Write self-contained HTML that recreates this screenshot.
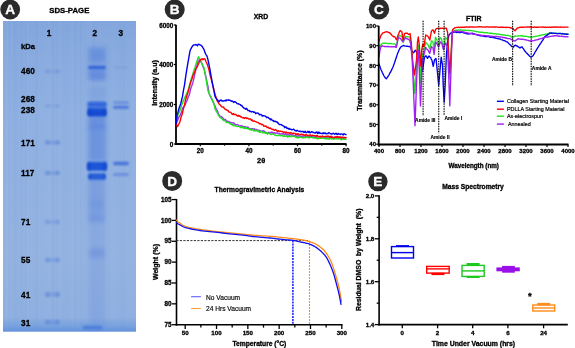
<!DOCTYPE html>
<html><head><meta charset="utf-8"><style>
html,body{margin:0;padding:0;background:#fff;width:575px;height:348px;overflow:hidden}
svg{display:block;will-change:transform}
text{font-family:"Liberation Sans",sans-serif}
</style></head><body>
<svg width="575" height="348" viewBox="0 0 575 348" font-family="Liberation Sans, sans-serif">
<defs><filter id="b1" x="-50%" y="-50%" width="200%" height="200%"><feGaussianBlur stdDeviation="1.2"/></filter><filter id="b2" x="-50%" y="-50%" width="200%" height="200%"><feGaussianBlur stdDeviation="2.2"/></filter><filter id="b05" x="-50%" y="-50%" width="200%" height="200%"><feGaussianBlur stdDeviation="0.6"/></filter><linearGradient id="gbot" x1="0" y1="0" x2="0" y2="1"><stop offset="0" stop-color="rgb(110,155,222)" stop-opacity="0"/><stop offset="0.5" stop-color="rgb(112,157,222)" stop-opacity="0.6"/><stop offset="1" stop-color="rgb(100,146,220)" stop-opacity="1"/></linearGradient><linearGradient id="ggel" x1="0" y1="0" x2="0" y2="1"><stop offset="0" stop-color="rgb(131,166,221)"/><stop offset="0.12" stop-color="rgb(137,171,223)"/><stop offset="0.3" stop-color="rgb(143,176,225)"/><stop offset="0.75" stop-color="rgb(148,179,225)"/><stop offset="0.95" stop-color="rgb(143,176,224)"/><stop offset="1" stop-color="rgb(138,172,223)"/></linearGradient></defs>
<rect width="575" height="348" fill="#fff"/>
<rect x="3" y="21" width="133" height="310.5" fill="url(#ggel)"/>
<rect x="46.1" y="21" width="1.1" height="310.5" fill="#ffffff" opacity="0.03"/>
<rect x="74.3" y="21" width="1.4" height="310.5" fill="#3a64c0" opacity="0.02"/>
<rect x="8.0" y="21" width="1.5" height="310.5" fill="#ffffff" opacity="0.02"/>
<rect x="59.5" y="21" width="2.2" height="310.5" fill="#ffffff" opacity="0.02"/>
<rect x="86.4" y="21" width="2.4" height="310.5" fill="#ffffff" opacity="0.03"/>
<rect x="132.8" y="21" width="0.9" height="310.5" fill="#ffffff" opacity="0.03"/>
<rect x="22.2" y="21" width="1.0" height="310.5" fill="#3a64c0" opacity="0.02"/>
<rect x="27.0" y="21" width="1.8" height="310.5" fill="#ffffff" opacity="0.03"/>
<rect x="75.9" y="21" width="0.9" height="310.5" fill="#ffffff" opacity="0.02"/>
<rect x="93.5" y="21" width="1.5" height="310.5" fill="#3a64c0" opacity="0.02"/>
<rect x="63.3" y="21" width="1.3" height="310.5" fill="#3a64c0" opacity="0.03"/>
<rect x="35.5" y="21" width="1.8" height="310.5" fill="#3a64c0" opacity="0.03"/>
<rect x="100.0" y="21" width="1.3" height="310.5" fill="#ffffff" opacity="0.03"/>
<rect x="58.6" y="21" width="2.1" height="310.5" fill="#ffffff" opacity="0.02"/>
<rect x="8.2" y="21" width="1.9" height="310.5" fill="#3a64c0" opacity="0.03"/>
<rect x="119.4" y="21" width="1.3" height="310.5" fill="#3a64c0" opacity="0.03"/>
<rect x="80.1" y="21" width="1.6" height="310.5" fill="#3a64c0" opacity="0.03"/>
<rect x="66.1" y="21" width="1.9" height="310.5" fill="#3a64c0" opacity="0.02"/>
<rect x="89.1" y="21" width="2.5" height="310.5" fill="#ffffff" opacity="0.03"/>
<rect x="54.3" y="21" width="1.9" height="310.5" fill="#ffffff" opacity="0.02"/>
<rect x="25.4" y="21" width="1.0" height="310.5" fill="#3a64c0" opacity="0.02"/>
<rect x="20.2" y="21" width="1.2" height="310.5" fill="#3a64c0" opacity="0.02"/>
<rect x="13.7" y="21" width="1.6" height="310.5" fill="#3a64c0" opacity="0.03"/>
<rect x="112.0" y="21" width="2.3" height="310.5" fill="#ffffff" opacity="0.02"/>
<rect x="50.7" y="21" width="2.3" height="310.5" fill="#ffffff" opacity="0.03"/>
<rect x="26.4" y="21" width="1.2" height="310.5" fill="#ffffff" opacity="0.02"/>
<rect x="81.4" y="21" width="1.2" height="310.5" fill="#ffffff" opacity="0.02"/>
<rect x="52.1" y="21" width="1.8" height="310.5" fill="#3a64c0" opacity="0.03"/>
<rect x="71.6" y="21" width="1.8" height="310.5" fill="#ffffff" opacity="0.03"/>
<rect x="122.6" y="21" width="2.1" height="310.5" fill="#3a64c0" opacity="0.03"/>
<rect x="55.2" y="21" width="1.5" height="310.5" fill="#3a64c0" opacity="0.02"/>
<rect x="11.3" y="21" width="0.9" height="310.5" fill="#ffffff" opacity="0.02"/>
<rect x="48.2" y="21" width="0.9" height="310.5" fill="#ffffff" opacity="0.02"/>
<rect x="16.5" y="21" width="1.4" height="310.5" fill="#3a64c0" opacity="0.02"/>
<rect x="84.7" y="21" width="1.1" height="310.5" fill="#ffffff" opacity="0.02"/>
<rect x="51.4" y="21" width="1.0" height="310.5" fill="#3a64c0" opacity="0.03"/>
<rect x="65.0" y="21" width="1.6" height="310.5" fill="#ffffff" opacity="0.02"/>
<rect x="48.6" y="21" width="1.3" height="310.5" fill="#ffffff" opacity="0.03"/>
<rect x="6.1" y="21" width="2.4" height="310.5" fill="#ffffff" opacity="0.03"/>
<rect x="75.2" y="21" width="0.8" height="310.5" fill="#3a64c0" opacity="0.03"/>
<rect x="3" y="318" width="133" height="13.5" fill="url(#gbot)"/>
<g filter="url(#b2)">
<rect x="88" y="46" width="18" height="34" fill="#3a6ad8" opacity="0.2"/>
<rect x="88.5" y="49" width="17" height="12" fill="#2f62d8" opacity="0.22"/>
<rect x="88.5" y="70" width="17" height="11" fill="#2f62d8" opacity="0.3"/>
<rect x="88" y="86" width="18" height="14" fill="#3a6ad8" opacity="0.15"/>
<rect x="88" y="114" width="18" height="14" fill="#2f62d8" opacity="0.4"/>
<rect x="88" y="126" width="18" height="36" fill="#2f62d8" opacity="0.34"/>
<rect x="88" y="178" width="17" height="44" fill="#3a6ad8" opacity="0.26"/>
<rect x="89" y="200" width="15" height="9" fill="#3a6ad8" opacity="0.1"/>
<rect x="88" y="215" width="17" height="110" fill="#4a78d8" opacity="0.16"/>
</g>
<rect x="45.00" y="70.00" width="15" height="3" rx="1.50" fill="#3d6ad0" opacity="0.13999999999999999" filter="url(#b1)"/>
<rect x="45.25" y="69.75" width="4.5" height="3.5" rx="1.75" fill="#3d6ad0" opacity="0.16000000000000003" filter="url(#b1)"/>
<rect x="55.25" y="69.75" width="4.5" height="3.5" rx="1.75" fill="#3d6ad0" opacity="0.16000000000000003" filter="url(#b1)"/>
<rect x="45.00" y="104.50" width="15" height="3" rx="1.50" fill="#3d6ad0" opacity="0.105" filter="url(#b1)"/>
<rect x="45.25" y="104.25" width="4.5" height="3.5" rx="1.75" fill="#3d6ad0" opacity="0.12" filter="url(#b1)"/>
<rect x="55.25" y="104.25" width="4.5" height="3.5" rx="1.75" fill="#3d6ad0" opacity="0.12" filter="url(#b1)"/>
<rect x="45.00" y="140.75" width="15" height="3.5" rx="1.75" fill="#3d6ad0" opacity="0.24499999999999997" filter="url(#b1)"/>
<rect x="45.25" y="140.50" width="4.5" height="4.0" rx="2.00" fill="#3d6ad0" opacity="0.27999999999999997" filter="url(#b1)"/>
<rect x="55.25" y="140.50" width="4.5" height="4.0" rx="2.00" fill="#3d6ad0" opacity="0.27999999999999997" filter="url(#b1)"/>
<rect x="45.00" y="171.25" width="15" height="3.5" rx="1.75" fill="#3d6ad0" opacity="0.24499999999999997" filter="url(#b1)"/>
<rect x="45.25" y="171.00" width="4.5" height="4.0" rx="2.00" fill="#3d6ad0" opacity="0.27999999999999997" filter="url(#b1)"/>
<rect x="55.25" y="171.00" width="4.5" height="4.0" rx="2.00" fill="#3d6ad0" opacity="0.27999999999999997" filter="url(#b1)"/>
<rect x="45.00" y="220.25" width="15" height="3.5" rx="1.75" fill="#3d6ad0" opacity="0.175" filter="url(#b1)"/>
<rect x="45.25" y="220.00" width="4.5" height="4.0" rx="2.00" fill="#3d6ad0" opacity="0.2" filter="url(#b1)"/>
<rect x="55.25" y="220.00" width="4.5" height="4.0" rx="2.00" fill="#3d6ad0" opacity="0.2" filter="url(#b1)"/>
<rect x="45.00" y="258.00" width="15" height="4" rx="2.00" fill="#3d6ad0" opacity="0.21" filter="url(#b1)"/>
<rect x="45.25" y="257.75" width="4.5" height="4.5" rx="2.25" fill="#3d6ad0" opacity="0.24" filter="url(#b1)"/>
<rect x="55.25" y="257.75" width="4.5" height="4.5" rx="2.25" fill="#3d6ad0" opacity="0.24" filter="url(#b1)"/>
<rect x="45.00" y="292.00" width="15" height="5" rx="2.50" fill="#3d6ad0" opacity="0.21" filter="url(#b1)"/>
<rect x="45.25" y="291.75" width="4.5" height="5.5" rx="2.75" fill="#3d6ad0" opacity="0.24" filter="url(#b1)"/>
<rect x="55.25" y="291.75" width="4.5" height="5.5" rx="2.75" fill="#3d6ad0" opacity="0.24" filter="url(#b1)"/>
<rect x="45.00" y="320.00" width="15" height="4" rx="2.00" fill="#3d6ad0" opacity="0.21" filter="url(#b1)"/>
<rect x="45.25" y="319.75" width="4.5" height="4.5" rx="2.25" fill="#3d6ad0" opacity="0.24" filter="url(#b1)"/>
<rect x="55.25" y="319.75" width="4.5" height="4.5" rx="2.25" fill="#3d6ad0" opacity="0.24" filter="url(#b1)"/>
<rect x="88.00" y="66.10" width="18" height="3" rx="1.50" fill="#2456d8" opacity="0.85" filter="url(#b1)"/>
<rect x="87.25" y="101.40" width="19.5" height="5.6" rx="2.80" fill="#2a60dc" opacity="0.92" filter="url(#b1)"/>
<rect x="87.50" y="105.95" width="19" height="2.5" rx="1.25" fill="#3a6ad8" opacity="0.6" filter="url(#b1)"/>
<rect x="87.25" y="107.80" width="19.5" height="8.4" rx="3.00" fill="#1a52d8" opacity="1.0" filter="url(#b1)"/>
<rect x="87.75" y="111.60" width="18.5" height="4" rx="2.00" fill="#0a40c8" opacity="0.55" filter="url(#b1)"/>
<rect x="88.00" y="108.00" width="3" height="8" rx="3.00" fill="#0a40c8" opacity="0.5" filter="url(#b1)"/>
<rect x="103.00" y="108.00" width="3" height="8" rx="3.00" fill="#0a40c8" opacity="0.5" filter="url(#b1)"/>
<rect x="87.00" y="162.10" width="20" height="8.6" rx="3.00" fill="#1c54d8" opacity="1.0" filter="url(#b1)"/>
<rect x="87.25" y="161.65" width="3.5" height="9.5" rx="3.00" fill="#0a40c8" opacity="0.55" filter="url(#b1)"/>
<rect x="103.25" y="161.65" width="3.5" height="9.5" rx="3.00" fill="#0a40c8" opacity="0.55" filter="url(#b1)"/>
<rect x="88.00" y="173.35" width="18" height="6.3" rx="3.00" fill="#2258d8" opacity="0.92" filter="url(#b1)"/>
<rect x="88.50" y="173.25" width="3" height="6.5" rx="3.00" fill="#1048c8" opacity="0.4" filter="url(#b1)"/>
<rect x="102.50" y="173.25" width="3" height="6.5" rx="3.00" fill="#1048c8" opacity="0.4" filter="url(#b1)"/>
<rect x="89.00" y="248.00" width="16" height="10" rx="3.00" fill="#3a68d8" opacity="0.22" filter="url(#b2)"/>
<rect x="82.60" y="325.40" width="20" height="4" rx="2.00" fill="#3068d8" opacity="0.55" filter="url(#b1)"/>
<rect x="113.00" y="101.40" width="16" height="2.4" rx="1.20" fill="#3a66d8" opacity="0.5" filter="url(#b1)"/>
<rect x="113.00" y="105.70" width="16" height="3" rx="1.50" fill="#2a5ad8" opacity="0.65" filter="url(#b1)"/>
<rect x="113.00" y="161.65" width="16" height="3.5" rx="1.75" fill="#2a5ad8" opacity="0.7" filter="url(#b1)"/>
<rect x="113.00" y="173.00" width="16" height="3" rx="1.50" fill="#3a66d8" opacity="0.45" filter="url(#b1)"/>
<rect x="114.00" y="66.25" width="14" height="2.5" rx="1.25" fill="#3a68d8" opacity="0.12" filter="url(#b1)"/>
<text x="69.30" y="12.80" font-size="7.8" font-weight="bold" text-anchor="middle" fill="#000"  stroke="#000" stroke-width="0.3">SDS-PAGE</text>
<text x="49.00" y="36.30" font-size="8.2" font-weight="bold" text-anchor="middle" fill="#000"  stroke="#000" stroke-width="0.3">1</text>
<text x="94.70" y="36.30" font-size="8.2" font-weight="bold" text-anchor="middle" fill="#000"  stroke="#000" stroke-width="0.3">2</text>
<text x="120.70" y="36.30" font-size="8.2" font-weight="bold" text-anchor="middle" fill="#000"  stroke="#000" stroke-width="0.3">3</text>
<text x="21.10" y="48.70" font-size="7.6" font-weight="bold" text-anchor="start" fill="#000"  stroke="#000" stroke-width="0.3">kDa</text>
<text x="21.10" y="73.90" font-size="8.2" font-weight="bold" text-anchor="start" fill="#000"  stroke="#000" stroke-width="0.3">460</text>
<text x="21.10" y="101.90" font-size="8.2" font-weight="bold" text-anchor="start" fill="#000"  stroke="#000" stroke-width="0.3">268</text>
<text x="21.10" y="112.90" font-size="8.2" font-weight="bold" text-anchor="start" fill="#000"  stroke="#000" stroke-width="0.3">238</text>
<text x="21.10" y="145.60" font-size="8.2" font-weight="bold" text-anchor="start" fill="#000"  stroke="#000" stroke-width="0.3">171</text>
<text x="21.10" y="176.30" font-size="8.2" font-weight="bold" text-anchor="start" fill="#000"  stroke="#000" stroke-width="0.3">117</text>
<text x="21.10" y="225.20" font-size="8.2" font-weight="bold" text-anchor="start" fill="#000"  stroke="#000" stroke-width="0.3">71</text>
<text x="21.10" y="262.90" font-size="8.2" font-weight="bold" text-anchor="start" fill="#000"  stroke="#000" stroke-width="0.3">55</text>
<text x="21.10" y="297.80" font-size="8.2" font-weight="bold" text-anchor="start" fill="#000"  stroke="#000" stroke-width="0.3">41</text>
<text x="21.10" y="325.60" font-size="8.2" font-weight="bold" text-anchor="start" fill="#000"  stroke="#000" stroke-width="0.3">31</text>
<line x1="176.00" y1="24.80" x2="176.00" y2="145.00" stroke="#000" stroke-width="1.8" />
<line x1="175.20" y1="144.00" x2="346.50" y2="144.00" stroke="#000" stroke-width="1.8" />
<line x1="173.80" y1="25.00" x2="176.00" y2="25.00" stroke="#000" stroke-width="1.2" />
<text x="173.20" y="27.80" font-size="6.3" font-weight="bold" text-anchor="end" fill="#000"  stroke="#000" stroke-width="0.3">6000</text>
<line x1="173.80" y1="64.50" x2="176.00" y2="64.50" stroke="#000" stroke-width="1.2" />
<text x="173.20" y="67.30" font-size="6.3" font-weight="bold" text-anchor="end" fill="#000"  stroke="#000" stroke-width="0.3">4000</text>
<line x1="173.80" y1="104.50" x2="176.00" y2="104.50" stroke="#000" stroke-width="1.2" />
<text x="173.20" y="107.30" font-size="6.3" font-weight="bold" text-anchor="end" fill="#000"  stroke="#000" stroke-width="0.3">2000</text>
<line x1="173.80" y1="144.00" x2="176.00" y2="144.00" stroke="#000" stroke-width="1.2" />
<text x="173.20" y="146.80" font-size="6.3" font-weight="bold" text-anchor="end" fill="#000"  stroke="#000" stroke-width="0.3">0</text>
<line x1="200.30" y1="144.00" x2="200.30" y2="146.30" stroke="#000" stroke-width="1.2" />
<text x="200.30" y="152.80" font-size="6.3" font-weight="bold" text-anchor="middle" fill="#000"  stroke="#000" stroke-width="0.3">20</text>
<line x1="248.90" y1="144.00" x2="248.90" y2="146.30" stroke="#000" stroke-width="1.2" />
<text x="248.90" y="152.80" font-size="6.3" font-weight="bold" text-anchor="middle" fill="#000"  stroke="#000" stroke-width="0.3">40</text>
<line x1="297.50" y1="144.00" x2="297.50" y2="146.30" stroke="#000" stroke-width="1.2" />
<text x="297.50" y="152.80" font-size="6.3" font-weight="bold" text-anchor="middle" fill="#000"  stroke="#000" stroke-width="0.3">60</text>
<line x1="346.10" y1="144.00" x2="346.10" y2="146.30" stroke="#000" stroke-width="1.2" />
<text x="346.10" y="152.80" font-size="6.3" font-weight="bold" text-anchor="middle" fill="#000"  stroke="#000" stroke-width="0.3">80</text>
<line x1="224.60" y1="144.00" x2="224.60" y2="145.80" stroke="#000" stroke-width="1.0" />
<line x1="273.20" y1="144.00" x2="273.20" y2="145.80" stroke="#000" stroke-width="1.0" />
<line x1="321.80" y1="144.00" x2="321.80" y2="145.80" stroke="#000" stroke-width="1.0" />
<text x="261.00" y="19.30" font-size="6.9" font-weight="bold" text-anchor="middle" fill="#000"  stroke="#000" stroke-width="0.3">XRD</text>
<text x="261.10" y="163.00" font-size="7.5" font-weight="bold" text-anchor="middle" fill="#000"  stroke="#000" stroke-width="0.3">2θ</text>
<text x="0.00" y="0.00" font-size="7" font-weight="bold" text-anchor="middle" fill="#000" transform="translate(157.3,83) rotate(-90)" stroke="#000" stroke-width="0.3">Intensity (a.u)</text>
<polyline points="176.50,121.49 177.20,121.17 177.90,119.73 178.60,117.70 179.30,116.71 180.00,115.33 180.75,113.76 181.50,112.10 182.25,109.28 183.00,107.34 183.75,107.30 184.50,105.56 185.25,104.84 186.00,102.60 186.75,101.15 187.50,99.46 188.25,96.70 189.00,95.62 189.75,93.11 190.50,89.44 191.25,86.99 192.00,85.26 193.00,82.21 194.00,77.83 195.00,73.15 196.00,68.99 197.00,64.89 198.00,61.61 198.75,60.66 199.50,59.49 200.33,60.66 201.17,62.19 202.00,63.71 202.75,66.07 203.50,67.86 204.25,69.51 205.00,72.67 206.00,77.18 207.00,82.20 208.00,86.56 209.00,92.69 209.75,95.05 210.50,96.57 211.33,98.17 212.17,100.01 213.00,101.30 214.00,104.11 215.00,105.89 215.80,108.16 216.60,109.64 217.40,110.82 218.20,112.92 219.00,115.04 219.80,115.78 220.60,116.11 221.40,117.02 222.20,117.05 223.00,118.14 223.80,119.42 224.60,119.38 225.40,119.54 226.20,120.57 227.00,121.28 227.71,121.52 228.43,121.37 229.14,121.73 229.86,122.10 230.57,122.75 231.29,122.66 232.00,122.75 232.71,123.16 233.43,122.78 234.14,123.08 234.86,124.27 235.57,124.93 236.29,124.66 237.00,124.65 237.72,124.53 238.44,125.18 239.17,126.04 239.89,125.93 240.61,125.80 241.33,126.44 242.06,125.75 242.78,126.33 243.50,127.13 244.22,126.80 244.94,126.82 245.67,126.74 246.39,127.32 247.11,128.08 247.83,126.94 248.56,128.22 249.28,128.46 250.00,128.74 250.72,128.71 251.45,128.98 252.18,128.75 252.90,128.99 253.62,128.97 254.35,128.63 255.07,129.94 255.80,129.70 256.52,129.35 257.25,129.96 257.97,130.10 258.70,130.10 259.43,130.26 260.15,130.70 260.88,131.00 261.60,131.16 262.32,131.12 263.05,130.69 263.77,131.15 264.50,131.25 265.22,131.99 265.95,132.56 266.67,132.64 267.40,132.82 268.11,132.92 268.82,132.22 269.53,133.12 270.24,132.97 270.95,132.22 271.66,132.21 272.37,132.29 273.08,133.41 273.79,132.78 274.50,132.67 275.21,133.47 275.92,133.16 276.63,132.86 277.34,133.07 278.05,133.66 278.76,133.24 279.47,133.47 280.18,134.17 280.89,133.89 281.60,133.78 282.31,134.08 283.02,133.53 283.73,134.12 284.44,134.25 285.16,134.00 285.87,133.97 286.58,135.16 287.29,134.70 288.00,134.36 288.71,135.00 289.42,135.37 290.13,134.34 290.84,134.42 291.55,134.68 292.26,135.56 292.97,134.86 293.68,135.71 294.39,135.75 295.10,135.65 295.81,135.27 296.52,136.41 297.23,136.25 297.94,135.93 298.65,135.60 299.36,136.28 300.07,136.01 300.78,136.34 301.49,136.07 302.20,136.58 302.91,135.80 303.61,136.16 304.32,137.11 305.03,137.00 305.73,136.23 306.44,137.02 307.15,136.27 307.85,137.17 308.56,136.92 309.26,136.48 309.97,136.27 310.68,135.94 311.38,137.18 312.09,136.02 312.80,137.14 313.50,137.36 314.21,136.83 314.92,136.29 315.62,137.28 316.33,137.45 317.04,137.09 317.74,136.84 318.45,136.67 319.15,136.65 319.86,136.47 320.57,137.15 321.27,136.83 321.98,136.51 322.69,136.41 323.39,137.21 324.10,136.71 324.81,137.02 325.51,136.79 326.22,137.58 326.93,137.64 327.63,136.42 328.34,136.70 329.05,136.89 329.75,137.84 330.46,137.57 331.16,136.97 331.87,136.81 332.58,137.48 333.28,137.72 333.99,137.88 334.70,137.07 335.40,137.85 336.11,137.59 336.82,137.33 337.52,138.05 338.23,137.02 338.94,137.72 339.64,136.84 340.35,136.98 341.05,138.04 341.76,137.08 342.47,137.87 343.17,137.66 343.88,138.02 344.59,137.38 345.29,137.36 346.00,137.60" fill="none" stroke="#a033f0" stroke-width="1.4" stroke-linejoin="round" stroke-linecap="round" />
<polyline points="176.50,120.14 177.20,118.23 177.90,115.08 178.60,113.22 179.30,112.37 180.00,110.33 180.75,108.11 181.50,105.48 182.25,103.77 183.00,101.65 183.75,100.04 184.50,97.87 185.25,96.68 186.00,95.05 186.75,93.46 187.50,91.79 188.25,89.68 189.00,87.06 189.75,84.45 190.50,81.73 191.25,78.93 192.00,76.44 192.75,74.53 193.50,71.80 194.25,69.36 195.00,67.55 196.00,64.04 197.00,61.08 197.80,58.78 198.60,56.63 199.30,58.46 200.00,59.59 201.00,61.61 202.00,63.80 203.00,65.89 204.00,67.75 205.00,73.75 206.00,78.62 207.00,84.58 208.00,90.87 209.00,93.17 210.00,95.71 211.00,96.65 212.00,99.07 213.00,102.05 214.00,103.93 215.00,108.56 216.00,110.65 217.00,112.45 218.05,114.39 219.10,116.19 219.88,117.45 220.66,117.52 221.44,118.64 222.22,118.64 223.00,120.04 223.82,120.60 224.64,120.53 225.46,121.21 226.28,122.25 227.10,122.51 227.80,122.51 228.50,122.47 229.20,122.94 229.90,123.79 230.60,123.38 231.30,124.74 232.00,124.18 232.73,125.33 233.46,124.75 234.19,125.91 234.91,125.82 235.64,125.79 236.37,126.07 237.10,126.51 237.82,126.58 238.54,126.35 239.25,126.35 239.97,126.93 240.69,127.68 241.41,127.40 242.13,126.79 242.85,127.98 243.56,128.01 244.28,128.42 245.00,127.57 245.71,128.54 246.43,127.78 247.14,128.81 247.86,128.48 248.57,128.62 249.29,129.73 250.00,128.85 250.72,129.61 251.45,130.25 252.18,129.57 252.90,129.69 253.62,130.81 254.35,130.34 255.07,130.93 255.80,130.14 256.52,130.78 257.25,130.69 257.97,131.57 258.70,130.92 259.43,132.31 260.15,131.19 260.88,132.35 261.60,131.53 262.32,132.03 263.05,132.99 263.77,132.24 264.50,132.46 265.22,133.34 265.95,133.09 266.67,132.79 267.40,134.29 268.12,133.22 268.85,133.17 269.57,133.71 270.30,134.19 271.02,134.48 271.75,133.71 272.47,134.13 273.20,133.81 273.93,134.50 274.65,135.06 275.38,135.13 276.10,135.46 276.82,135.37 277.55,135.62 278.27,135.51 279.00,135.30 279.73,135.06 280.45,135.78 281.18,135.40 281.90,135.21 282.62,135.80 283.35,136.51 284.07,135.57 284.80,136.32 285.53,136.10 286.25,136.33 286.98,135.86 287.70,137.06 288.43,136.13 289.15,136.67 289.88,136.47 290.60,135.96 291.32,136.77 292.05,136.24 292.77,136.18 293.50,136.20 294.23,136.43 294.95,136.39 295.68,137.20 296.40,137.08 297.12,137.80 297.85,137.78 298.57,137.92 299.30,136.91 300.02,137.26 300.75,137.04 301.47,137.57 302.20,137.67 302.91,137.95 303.61,137.85 304.32,137.25 305.03,137.51 305.73,137.68 306.44,136.98 307.15,137.05 307.85,137.60 308.56,137.22 309.26,138.10 309.97,137.46 310.68,137.29 311.38,137.43 312.09,137.53 312.80,137.54 313.50,137.99 314.21,137.94 314.92,137.76 315.62,138.25 316.33,137.68 317.04,138.68 317.74,138.79 318.45,138.49 319.15,138.10 319.86,138.24 320.57,138.37 321.27,137.66 321.98,138.20 322.69,138.38 323.39,137.92 324.10,137.83 324.81,138.85 325.51,138.27 326.22,138.51 326.93,139.11 327.63,138.70 328.34,138.28 329.05,139.28 329.75,138.45 330.46,137.99 331.16,138.95 331.87,138.16 332.58,138.48 333.28,139.25 333.99,139.05 334.70,138.16 335.40,138.80 336.11,138.77 336.82,138.90 337.52,138.54 338.23,139.10 338.94,138.41 339.64,138.74 340.35,138.89 341.05,139.71 341.76,138.53 342.47,139.51 343.17,138.75 343.88,139.31 344.59,139.09 345.29,139.22 346.00,139.30" fill="none" stroke="#22dd22" stroke-width="1.4" stroke-linejoin="round" stroke-linecap="round" />
<polyline points="176.50,124.93 177.60,126.56 178.40,124.65 179.20,123.31 180.00,121.68 180.75,118.27 181.50,115.57 182.25,114.10 183.00,110.66 183.75,107.38 184.50,105.19 185.25,101.21 186.00,98.47 186.83,95.63 187.67,93.53 188.50,90.51 189.25,87.69 190.00,84.52 190.80,81.85 191.60,79.98 192.40,77.70 193.20,74.67 194.00,73.46 194.80,71.61 195.60,69.58 196.40,67.58 197.20,67.13 198.00,64.96 199.00,62.81 200.00,60.53 200.75,59.55 201.50,59.09 202.25,58.75 203.00,59.72 204.00,58.72 205.00,58.91 206.00,61.73 207.00,63.54 208.00,66.64 209.00,69.80 210.00,74.85 211.00,78.11 212.00,82.43 213.00,86.02 214.00,90.31 215.00,94.14 216.00,97.14 217.00,100.52 218.00,102.02 219.00,103.97 219.75,104.40 220.50,105.50 221.25,106.15 222.00,107.09 222.75,107.14 223.50,106.93 224.25,108.40 225.00,109.05 225.76,109.57 226.53,109.70 227.29,110.50 228.05,110.40 228.81,111.86 229.57,112.10 230.34,112.30 231.10,112.59 231.83,113.97 232.55,114.43 233.28,113.44 234.01,114.71 234.74,114.44 235.46,114.35 236.19,114.82 236.92,115.76 237.65,116.18 238.37,115.29 239.10,116.36 239.84,115.78 240.57,116.94 241.31,116.62 242.05,117.61 242.78,117.96 243.52,117.52 244.25,118.43 244.99,117.68 245.73,117.57 246.46,118.52 247.20,117.94 247.90,118.35 248.60,118.82 249.30,119.28 250.00,118.82 250.72,118.95 251.45,120.40 252.18,119.91 252.90,121.11 253.62,121.31 254.35,120.88 255.07,121.29 255.80,121.66 256.52,122.13 257.25,122.35 257.97,122.59 258.70,122.97 259.43,123.81 260.15,123.59 260.88,123.88 261.60,124.68 262.32,124.39 263.05,124.87 263.77,126.21 264.50,125.96 265.22,126.39 265.95,126.03 266.67,126.99 267.40,127.61 268.12,127.08 268.85,128.16 269.57,128.44 270.30,127.88 271.02,128.93 271.75,128.95 272.48,129.50 273.20,129.29 273.93,130.04 274.65,130.33 275.38,129.58 276.10,129.88 276.83,130.90 277.55,131.47 278.28,130.63 279.00,131.07 279.73,131.42 280.45,131.20 281.18,131.42 281.90,131.50 282.62,131.74 283.35,132.22 284.07,131.96 284.80,132.23 285.53,132.88 286.25,131.93 286.98,132.78 287.70,133.11 288.43,132.61 289.15,132.59 289.88,133.50 290.60,132.80 291.32,132.82 292.05,133.27 292.77,133.73 293.50,132.99 294.23,133.40 294.95,133.51 295.68,134.30 296.40,133.85 297.12,134.53 297.85,133.66 298.57,133.99 299.30,134.53 300.02,134.95 300.75,134.44 301.47,134.22 302.20,134.17 302.93,134.80 303.65,134.39 304.38,135.32 305.10,135.42 305.82,134.57 306.55,134.77 307.27,135.57 308.00,135.40 308.73,135.69 309.45,135.11 310.18,134.87 310.90,135.16 311.62,135.92 312.35,135.25 313.07,135.42 313.80,135.58 314.53,135.65 315.25,135.70 315.98,136.48 316.70,135.47 317.43,135.32 318.15,136.70 318.88,136.67 319.60,136.88 320.31,136.15 321.03,136.91 321.74,136.91 322.45,135.96 323.17,136.73 323.88,136.90 324.59,136.69 325.31,136.53 326.02,136.25 326.74,136.36 327.45,136.23 328.16,136.05 328.88,136.82 329.59,136.43 330.30,137.20 331.02,136.17 331.73,137.41 332.44,137.15 333.16,137.51 333.87,137.51 334.58,137.55 335.30,137.14 336.01,136.39 336.72,137.45 337.44,136.69 338.15,136.90 338.86,137.45 339.58,137.29 340.29,137.18 341.01,137.95 341.72,137.53 342.43,137.19 343.15,137.10 343.86,137.99 344.57,137.49 345.29,137.96 346.00,137.60" fill="none" stroke="#ff0000" stroke-width="1.4" stroke-linejoin="round" stroke-linecap="round" />
<polyline points="176.50,123.63 177.00,114.84 177.75,112.90 178.50,110.22 179.25,107.74 180.00,105.86 180.83,103.25 181.67,99.75 182.50,96.37 183.50,90.11 184.50,85.05 185.25,79.69 186.00,74.54 186.85,69.20 187.70,64.10 189.00,56.60 190.10,50.46 191.05,48.68 192.00,46.92 193.00,45.42 194.00,44.93 195.00,44.88 196.00,44.52 196.75,45.20 197.50,45.73 198.25,44.17 199.00,44.45 200.00,44.99 201.00,45.21 202.00,46.15 203.00,47.96 204.00,49.43 205.00,52.61 206.00,54.51 207.00,56.07 208.00,59.77 209.00,64.67 210.00,69.75 211.00,75.74 212.00,81.24 213.00,86.31 214.00,91.18 215.00,96.44 216.00,98.05 217.00,99.53 218.00,100.43 219.00,101.84 220.00,100.36 221.00,99.96 222.00,101.08 223.00,100.89 223.75,101.02 224.50,100.71 225.25,100.30 226.00,101.00 226.75,99.85 227.50,100.13 228.25,99.81 229.00,100.39 229.80,100.15 230.60,100.52 231.40,101.33 232.20,100.99 233.00,101.58 233.80,102.41 234.60,101.62 235.40,101.91 236.20,102.48 237.00,103.57 237.80,103.82 238.60,103.75 239.40,104.34 240.20,104.59 241.00,105.44 241.80,105.40 242.60,106.86 243.40,107.67 244.20,108.30 245.00,108.53 245.71,109.24 246.43,108.33 247.14,109.10 247.86,110.45 248.57,110.59 249.29,110.47 250.00,111.62 250.72,111.43 251.45,111.96 252.18,111.49 252.90,111.60 253.62,112.21 254.35,112.04 255.07,112.64 255.80,113.71 256.52,113.09 257.25,112.90 257.97,113.20 258.70,113.64 259.43,114.79 260.15,114.49 260.88,114.68 261.60,114.70 262.32,116.23 263.05,115.74 263.77,115.73 264.50,115.82 265.22,116.10 265.95,116.55 266.67,117.56 267.40,117.11 268.12,117.32 268.85,118.32 269.57,118.35 270.30,119.76 271.02,118.90 271.75,119.84 272.48,120.55 273.20,120.41 273.93,121.58 274.65,121.24 275.38,121.27 276.10,121.87 276.83,121.78 277.55,122.76 278.28,122.95 279.00,124.28 279.73,124.63 280.45,124.60 281.18,124.38 281.90,125.12 282.62,125.54 283.35,125.92 284.07,126.39 284.80,127.72 285.53,126.92 286.25,127.01 286.98,128.45 287.70,128.16 288.43,128.97 289.15,128.36 289.88,129.28 290.60,129.15 291.32,129.56 292.05,129.71 292.77,129.58 293.50,129.23 294.23,129.54 294.95,130.61 295.68,130.78 296.40,130.96 297.12,130.28 297.85,130.87 298.57,131.21 299.30,131.13 300.02,131.52 300.75,131.26 301.47,131.57 302.20,131.76 302.93,131.23 303.65,132.21 304.38,132.31 305.10,131.14 305.82,132.45 306.55,132.50 307.27,132.14 308.00,131.33 308.73,132.58 309.45,131.56 310.18,132.80 310.90,132.43 311.62,131.64 312.35,131.85 313.07,132.56 313.80,132.53 314.53,132.84 315.25,133.15 315.98,132.21 316.70,131.97 317.43,133.32 318.15,132.10 318.88,133.37 319.60,132.36 320.31,133.38 321.03,133.38 321.74,133.56 322.45,133.14 323.17,133.65 323.88,132.74 324.59,133.44 325.31,133.01 326.02,133.84 326.74,133.72 327.45,133.34 328.16,133.46 328.88,132.80 329.59,132.85 330.30,133.68 331.02,133.58 331.73,134.15 332.44,133.83 333.16,133.22 333.87,133.57 334.58,134.18 335.30,133.88 336.01,133.21 336.72,134.41 337.44,134.44 338.15,133.44 338.86,134.13 339.58,133.94 340.29,134.56 341.01,133.93 341.72,133.87 342.43,134.27 343.15,134.98 343.86,133.80 344.57,133.87 345.29,134.63 346.00,134.50" fill="none" stroke="#0000f0" stroke-width="1.4" stroke-linejoin="round" stroke-linecap="round" />
<polyline points="379.00,48.28 379.75,46.79 380.50,45.09 381.30,44.61 382.10,43.71 382.90,43.17 383.54,43.15 384.17,43.21 384.81,43.49 385.45,43.22 386.09,43.44 386.73,43.31 387.36,43.37 388.00,43.47 388.64,43.70 389.27,43.61 389.91,43.34 390.55,43.50 391.18,43.46 391.82,43.85 392.45,43.85 393.09,43.87 393.73,43.91 394.36,43.90 395.00,44.02 395.65,45.40 396.30,46.58 397.50,40.17 398.10,38.49 398.70,37.13 399.30,35.53 399.95,35.69 400.60,35.88 401.25,36.14 401.90,36.31 402.55,39.21 403.20,42.56 403.90,40.55 404.60,38.64 405.30,36.50 405.91,36.54 406.53,36.75 407.14,36.56 407.76,36.95 408.37,36.94 408.99,36.92 409.60,37.05 410.80,42.01 411.50,48.13 412.20,54.48 412.85,64.80 413.50,74.95 414.15,84.02 414.80,93.40 416.00,74.87 416.75,63.37 417.50,51.85 418.30,44.93 419.30,54.79 420.50,83.08 421.70,62.23 422.70,54.94 423.35,52.86 424.00,50.72 424.85,46.22 425.70,42.22 426.47,43.32 427.23,44.10 428.00,44.77 428.60,45.90 429.20,47.39 429.80,48.98 430.65,44.94 431.50,40.85 432.25,41.15 433.00,42.08 434.10,49.84 434.80,43.71 435.50,37.12 436.25,38.94 437.00,40.15 437.75,43.11 438.50,45.76 439.25,41.66 440.00,37.34 440.75,38.20 441.50,38.93 442.17,42.38 442.83,45.45 443.50,48.70 444.17,44.80 444.83,41.23 445.50,37.11 446.17,38.06 446.83,38.88 447.50,40.07 448.70,60.03 449.80,79.02 451.00,54.77 452.20,31.97 452.90,31.52 453.60,31.00 454.30,30.55 455.00,30.65 455.64,30.17 456.27,30.23 456.91,30.18 457.55,30.30 458.18,30.01 458.82,30.17 459.45,30.08 460.09,30.28 460.73,29.83 461.36,29.95 462.00,30.00 462.62,30.27 463.23,30.09 463.85,30.10 464.46,30.24 465.08,30.09 465.69,30.00 466.31,30.27 466.92,30.51 467.54,30.47 468.15,30.26 468.77,30.52 469.38,30.64 470.00,30.38 470.62,30.65 471.25,30.64 471.88,30.69 472.50,30.82 473.12,30.88 473.75,31.06 474.38,31.01 475.00,31.30 475.62,31.25 476.25,31.69 476.88,31.72 477.50,31.53 478.12,32.02 478.75,31.83 479.38,32.08 480.00,32.23 480.62,32.18 481.25,32.22 481.88,32.35 482.50,32.27 483.12,32.69 483.75,32.38 484.38,32.80 485.00,32.56 485.62,32.66 486.25,32.77 486.88,32.65 487.50,32.76 488.12,32.94 488.75,33.05 489.38,33.33 490.00,33.44 490.62,33.05 491.25,33.37 491.88,33.24 492.50,33.65 493.12,33.49 493.75,33.85 494.38,33.75 495.00,33.61 495.62,33.63 496.25,33.82 496.88,34.21 497.50,33.92 498.12,34.16 498.75,34.19 499.38,34.25 500.00,34.55 500.62,34.34 501.25,34.68 501.88,34.75 502.50,34.97 503.12,34.85 503.75,35.14 504.38,34.98 505.00,35.14 505.62,35.25 506.25,35.44 506.88,35.56 507.50,35.26 508.12,35.36 508.75,35.64 509.38,35.87 510.00,35.82 510.62,36.22 511.25,37.08 511.88,37.27 512.50,37.69 513.12,37.20 513.75,36.72 514.38,36.59 515.00,35.80 515.62,36.07 516.25,36.11 516.88,36.14 517.50,36.00 518.12,35.77 518.75,35.84 519.38,35.90 520.00,35.81 520.61,35.67 521.22,35.99 521.83,35.74 522.44,35.92 523.06,36.34 523.67,36.15 524.28,36.13 524.89,36.46 525.50,36.38 526.11,36.23 526.72,36.32 527.33,36.51 527.94,36.63 528.56,37.01 529.17,36.74 529.78,37.12 530.39,37.20 531.00,37.06 531.64,37.25 532.27,37.03 532.91,36.79 533.55,36.58 534.18,36.58 534.82,36.70 535.45,36.42 536.09,36.15 536.73,36.14 537.36,36.09 538.00,35.85 538.64,35.88 539.27,35.46 539.91,35.70 540.55,35.22 541.18,35.03 541.82,35.12 542.45,34.82 543.09,34.96 543.73,34.61 544.36,34.47 545.00,34.47 545.62,34.02 546.25,34.15 546.88,33.96 547.50,33.71 548.12,33.84 548.75,33.24 549.38,33.52 550.00,33.02 550.60,33.39 551.20,33.07 551.80,33.04 552.40,33.28 553.00,33.51 553.60,33.20 554.20,33.33 554.80,33.41 555.40,33.25 556.00,33.42 556.60,33.18 557.20,33.42 557.80,33.60 558.40,33.42 559.00,33.39 559.60,33.33 560.20,33.68 560.80,33.56 561.40,33.83 562.00,33.77 562.60,33.48 563.20,33.91 563.80,33.94 564.40,33.91 565.00,33.94 565.60,33.89 566.20,33.94 566.80,33.93 567.40,33.92 568.00,33.90" fill="none" stroke="#22e022" stroke-width="1.35" stroke-linejoin="round" stroke-linecap="round" />
<polyline points="379.00,63.98 379.73,66.03 380.47,68.21 381.20,69.98 381.80,71.34 382.40,72.71 383.00,73.84 383.80,75.46 384.60,76.96 385.45,78.10 386.30,78.80 387.15,77.65 388.00,76.30 388.60,75.62 389.20,74.53 389.80,73.17 390.48,72.28 391.16,70.91 391.84,69.40 392.52,68.02 393.20,66.43 393.97,64.16 394.73,62.21 395.50,59.78 396.20,57.71 396.90,55.60 397.60,53.37 398.23,52.05 398.87,50.50 399.50,49.17 400.25,47.86 401.00,46.77 401.65,46.40 402.30,46.18 402.95,45.78 403.60,45.39 404.40,45.92 405.20,46.08 406.00,46.17 406.70,46.28 407.40,46.26 408.10,46.39 408.80,46.59 409.50,46.44 410.20,46.73 411.05,48.70 411.90,51.07 412.75,51.69 413.60,52.83 414.45,51.67 415.30,50.15 416.50,51.85 417.25,54.41 418.00,56.38 418.67,56.91 419.33,56.88 420.00,56.99 420.75,58.66 421.50,60.14 422.50,71.38 423.50,63.79 424.50,56.92 425.25,56.58 426.00,55.83 426.75,56.91 427.50,58.37 428.25,57.15 429.00,55.98 429.75,57.00 430.50,57.34 431.25,59.03 432.00,60.47 433.20,66.45 433.85,63.42 434.50,59.82 435.25,59.37 436.00,58.41 437.20,69.96 437.95,77.61 438.70,85.38 439.35,77.99 440.00,70.15 441.20,57.10 441.85,61.29 442.50,64.86 443.20,84.95 444.20,102.18 445.20,85.07 446.40,54.80 447.50,42.24 448.25,38.36 449.00,34.88 449.75,34.24 450.50,33.11 451.18,32.88 451.86,32.55 452.54,32.34 453.22,32.36 453.90,31.97 454.51,32.19 455.12,32.12 455.73,32.20 456.34,32.49 456.95,32.29 457.56,32.38 458.17,32.56 458.78,32.26 459.39,32.29 460.00,32.70 460.67,32.56 461.33,32.17 462.00,32.04 462.60,32.48 463.20,32.74 463.80,32.53 464.40,33.07 465.00,33.19 465.67,33.42 466.33,33.69 467.00,33.90 467.62,33.76 468.25,34.11 468.88,33.63 469.50,33.75 470.12,33.42 470.75,33.59 471.38,33.36 472.00,33.10 472.62,33.24 473.23,33.71 473.85,33.58 474.46,33.86 475.08,34.23 475.69,34.58 476.31,34.66 476.92,34.69 477.54,35.21 478.15,35.05 478.77,35.16 479.38,35.48 480.00,35.77 480.62,35.65 481.25,35.78 481.88,35.94 482.50,36.11 483.12,35.96 483.75,36.14 484.38,36.48 485.00,36.59 485.62,36.50 486.25,36.58 486.88,36.60 487.50,36.45 488.12,36.46 488.75,36.52 489.38,37.04 490.00,37.00 490.62,37.26 491.25,36.91 491.88,37.34 492.50,37.39 493.12,37.64 493.75,37.56 494.38,38.02 495.00,37.69 495.62,38.05 496.25,38.27 496.88,38.48 497.50,38.52 498.12,38.63 498.75,38.80 499.38,38.98 500.00,38.83 500.62,39.24 501.25,39.60 501.88,39.84 502.50,39.86 503.12,40.30 503.75,40.58 504.38,40.69 505.00,40.96 505.60,41.16 506.20,41.58 506.80,41.91 507.40,41.97 508.00,42.57 508.67,43.41 509.33,44.02 510.00,44.61 510.67,45.14 511.33,46.02 512.00,46.64 512.75,46.72 513.50,47.07 514.25,45.84 515.00,45.33 515.67,45.23 516.33,45.78 517.00,45.99 517.60,46.23 518.20,46.82 518.80,47.08 519.40,47.50 520.00,48.01 520.67,47.38 521.33,46.96 522.00,46.80 522.60,47.85 523.20,48.47 523.80,49.31 524.40,50.54 525.00,51.28 525.60,51.83 526.20,52.72 526.80,53.09 527.40,53.92 528.00,54.35 528.60,55.01 529.20,55.73 529.80,56.33 530.40,56.85 531.00,57.14 531.67,56.84 532.33,56.31 533.00,55.82 533.67,54.70 534.33,53.57 535.00,52.27 535.62,51.23 536.25,50.38 536.88,49.06 537.50,48.03 538.12,47.20 538.75,46.14 539.38,45.13 540.00,44.26 540.62,43.40 541.25,42.37 541.88,41.32 542.50,40.62 543.12,39.73 543.75,38.50 544.38,37.35 545.00,36.37 545.62,36.35 546.25,35.50 546.88,35.39 547.50,34.89 548.12,34.32 548.75,34.12 549.38,33.30 550.00,32.92 550.62,33.11 551.25,32.92 551.88,33.36 552.50,33.09 553.12,33.08 553.75,33.06 554.38,33.38 555.00,33.32 555.62,33.45 556.25,33.49 556.88,33.60 557.50,33.70 558.12,33.60 558.75,33.39 559.38,33.56 560.00,33.44 560.62,33.41 561.23,33.69 561.85,33.87 562.46,33.65 563.08,33.76 563.69,33.85 564.31,34.08 564.92,34.04 565.54,34.14 566.15,34.27 566.77,34.14 567.38,34.39 568.00,34.30" fill="none" stroke="#0000f0" stroke-width="1.35" stroke-linejoin="round" stroke-linecap="round" />
<polyline points="379.00,40.69 379.67,39.05 380.33,37.32 381.00,35.32 381.63,34.39 382.27,33.70 382.90,32.79 383.58,32.82 384.26,32.52 384.94,32.23 385.62,31.97 386.30,31.78 387.00,31.76 387.70,32.15 388.40,32.25 389.10,32.86 389.80,32.68 390.45,33.81 391.10,34.19 391.75,35.24 392.40,35.82 393.05,36.18 393.70,36.72 394.35,36.63 395.00,36.98 395.85,38.71 396.70,39.80 397.40,37.05 398.10,34.94 398.77,33.59 399.43,31.84 400.10,30.66 401.00,31.17 401.90,31.91 402.55,36.41 403.20,40.53 404.40,33.90 405.05,33.38 405.70,33.24 406.35,33.36 407.00,32.95 407.60,33.46 408.20,34.05 408.80,34.49 409.45,34.09 410.10,33.57 411.30,42.51 412.50,60.23 413.17,65.24 413.83,70.08 414.50,74.93 415.17,69.93 415.83,65.10 416.50,60.09 417.50,41.81 418.30,36.97 419.30,44.93 420.50,66.01 421.70,50.16 422.70,44.40 423.35,45.21 424.00,46.66 424.85,40.72 425.70,35.01 426.47,35.29 427.23,35.83 428.00,36.24 428.60,37.67 429.20,38.57 429.80,40.02 430.65,35.24 431.50,30.90 432.25,30.17 433.00,29.89 433.75,31.52 434.50,33.27 435.50,29.58 436.70,28.58 437.30,28.35 437.90,28.29 438.50,28.29 439.11,28.53 439.72,28.29 440.32,28.53 440.93,28.13 441.54,28.51 442.15,28.23 442.75,28.14 443.36,28.42 443.97,28.51 444.58,28.05 445.18,28.18 445.79,28.44 446.40,28.22 447.00,30.37 447.60,32.45 448.70,54.77 449.80,73.06 451.00,55.24 451.75,42.75 452.50,30.00 453.12,29.14 453.75,28.66 454.38,28.27 455.00,27.67 455.62,27.54 456.25,27.31 456.88,27.44 457.50,27.39 458.12,27.44 458.75,27.23 459.38,27.55 460.00,27.50 460.62,27.11 461.25,27.16 461.88,27.43 462.50,27.11 463.12,27.43 463.75,27.20 464.38,27.27 465.00,27.25 465.62,26.99 466.25,27.01 466.88,26.97 467.50,27.17 468.12,27.15 468.75,26.85 469.38,27.21 470.00,26.96 470.62,26.86 471.25,26.94 471.88,27.20 472.50,26.98 473.12,27.00 473.75,27.13 474.38,27.14 475.00,27.03 475.62,26.85 476.25,26.92 476.88,27.06 477.50,26.99 478.12,26.88 478.75,26.75 479.38,26.75 480.00,26.92 480.62,26.84 481.25,26.58 481.88,26.94 482.50,27.05 483.12,27.01 483.75,27.07 484.38,27.09 485.00,26.92 485.62,27.06 486.25,26.86 486.88,26.74 487.50,26.88 488.12,26.87 488.75,27.19 489.38,27.08 490.00,27.02 490.62,27.07 491.25,26.84 491.88,27.05 492.50,27.15 493.12,27.01 493.75,26.95 494.38,27.04 495.00,27.01 495.62,27.21 496.25,26.95 496.88,26.93 497.50,27.06 498.12,27.26 498.75,27.30 499.38,27.27 500.00,27.42 500.62,27.16 501.25,27.01 501.88,27.27 502.50,27.27 503.12,27.16 503.75,27.43 504.38,27.30 505.00,27.27 505.62,27.34 506.25,27.67 506.88,27.23 507.50,27.43 508.12,27.41 508.75,27.40 509.38,27.54 510.00,27.46 510.60,27.99 511.20,27.96 511.80,28.24 512.40,28.15 513.00,28.48 513.67,29.35 514.33,30.27 515.00,30.77 515.67,29.98 516.33,29.28 517.00,28.37 517.60,27.86 518.20,27.82 518.80,27.73 519.40,27.35 520.00,27.29 520.62,27.28 521.25,27.42 521.88,27.21 522.50,27.27 523.12,27.09 523.75,27.28 524.38,27.07 525.00,27.15 525.62,27.07 526.25,27.04 526.88,26.95 527.50,26.99 528.12,27.14 528.75,26.99 529.38,26.88 530.00,27.25 530.60,27.00 531.20,27.33 531.80,27.16 532.40,27.06 533.00,27.31 533.60,27.32 534.20,27.04 534.80,26.94 535.40,27.21 536.00,27.31 536.60,27.20 537.20,27.29 537.80,27.11 538.40,27.21 539.00,27.04 539.60,27.12 540.20,27.11 540.80,27.11 541.40,27.13 542.00,27.33 542.60,27.02 543.20,27.04 543.80,27.07 544.40,27.43 545.00,27.21 545.61,26.97 546.21,27.36 546.82,27.38 547.42,27.35 548.03,27.12 548.63,27.30 549.24,27.08 549.84,27.00 550.45,27.36 551.05,27.34 551.66,27.03 552.26,27.36 552.87,26.93 553.47,27.07 554.08,26.92 554.68,26.99 555.29,26.99 555.89,27.26 556.50,27.05 557.11,26.99 557.71,26.99 558.32,27.05 558.92,27.32 559.53,27.19 560.13,26.94 560.74,27.22 561.34,27.15 561.95,27.10 562.55,27.14 563.16,27.20 563.76,27.27 564.37,27.12 564.97,27.18 565.58,27.09 566.18,27.17 566.79,27.05 567.39,27.06 568.00,27.10" fill="none" stroke="#ff0000" stroke-width="1.35" stroke-linejoin="round" stroke-linecap="round" />
<polyline points="379.00,56.80 380.00,50.10 381.20,45.98 381.83,46.22 382.47,45.99 383.10,46.08 383.73,46.42 384.37,46.48 385.00,46.40 385.62,46.62 386.25,46.50 386.88,46.71 387.50,46.41 388.12,46.49 388.75,46.85 389.38,46.60 390.00,46.58 390.62,46.86 391.25,46.79 391.88,46.56 392.50,46.78 393.12,46.84 393.75,46.61 394.38,46.86 395.00,46.61 395.65,47.12 396.30,47.39 397.00,43.99 397.70,40.91 398.40,37.15 399.10,37.88 399.80,38.04 400.50,38.55 401.23,39.72 401.97,40.66 402.70,41.41 403.35,40.77 404.00,39.92 404.65,38.82 405.30,37.90 405.91,38.53 406.53,38.59 407.14,38.68 407.76,39.05 408.37,39.17 408.99,39.71 409.60,39.80 410.80,44.80 411.50,52.51 412.20,59.49 412.85,74.74 413.50,89.76 414.25,108.12 415.00,125.81 415.65,108.01 416.30,89.80 417.50,57.99 418.30,50.09 419.30,70.02 420.50,105.98 421.70,74.99 422.70,59.97 423.35,57.30 424.00,54.30 424.85,51.04 425.70,47.47 426.40,48.58 427.10,49.42 427.80,49.78 428.47,50.95 429.13,52.37 429.80,53.44 430.65,49.71 431.50,46.60 432.25,47.47 433.00,47.96 434.10,54.42 434.80,48.23 435.50,42.12 436.25,42.83 437.00,43.90 437.75,45.34 438.50,47.06 439.17,45.28 439.83,43.48 440.50,41.84 441.25,42.72 442.00,43.91 442.75,47.19 443.50,49.94 444.17,47.49 444.83,45.52 445.50,42.93 446.17,44.21 446.83,45.43 447.50,46.82 448.70,74.85 449.80,105.87 451.00,70.19 452.20,31.88 452.90,31.67 453.60,31.65 454.30,31.61 455.00,31.10 455.64,31.36 456.27,31.19 456.91,31.31 457.55,31.36 458.18,31.56 458.82,31.49 459.45,31.39 460.09,31.59 460.73,31.38 461.36,31.41 462.00,31.73 462.62,31.68 463.23,31.96 463.85,31.89 464.46,32.35 465.08,32.36 465.69,32.34 466.31,32.85 466.92,32.78 467.54,32.87 468.15,33.00 468.77,33.08 469.38,33.29 470.00,33.70 470.62,33.51 471.25,33.67 471.88,33.85 472.50,34.00 473.12,34.01 473.75,34.31 474.38,34.13 475.00,34.28 475.62,34.41 476.25,34.35 476.88,34.49 477.50,34.55 478.12,34.93 478.75,34.74 479.38,35.09 480.00,34.96 480.62,35.24 481.25,35.30 481.88,35.21 482.50,35.57 483.12,35.49 483.75,35.50 484.38,35.31 485.00,35.55 485.62,35.55 486.25,35.71 486.88,36.00 487.50,36.03 488.12,35.69 488.75,36.07 489.38,36.25 490.00,36.12 490.62,35.95 491.25,36.38 491.88,36.21 492.50,36.54 493.12,36.54 493.75,36.56 494.38,36.67 495.00,36.28 495.62,36.70 496.25,36.50 496.88,36.47 497.50,36.64 498.12,36.79 498.75,36.55 499.38,36.82 500.00,37.04 500.62,37.01 501.25,37.14 501.88,37.14 502.50,37.59 503.12,37.34 503.75,37.67 504.38,37.76 505.00,37.55 505.62,38.16 506.25,37.89 506.88,38.38 507.50,38.46 508.12,38.56 508.75,38.65 509.38,38.54 510.00,38.67 510.62,39.00 511.25,39.67 511.88,39.59 512.50,40.02 513.12,40.60 513.75,40.70 514.38,40.83 515.00,41.13 515.60,40.49 516.20,40.23 516.80,39.61 517.40,39.42 518.00,38.58 518.60,38.84 519.20,38.98 519.80,39.16 520.40,39.04 521.00,39.24 521.60,39.45 522.20,39.25 522.80,39.21 523.40,39.20 524.00,39.68 524.64,39.64 525.27,39.75 525.91,39.97 526.55,39.93 527.18,40.13 527.82,40.30 528.45,40.46 529.09,40.92 529.73,40.76 530.36,40.84 531.00,41.38 531.64,41.07 532.27,40.65 532.91,40.82 533.55,40.67 534.18,40.50 534.82,40.41 535.45,40.08 536.09,39.83 536.73,39.93 537.36,39.72 538.00,39.60 538.64,39.15 539.27,39.05 539.91,39.02 540.55,38.68 541.18,38.60 541.82,38.34 542.45,38.29 543.09,37.90 543.73,37.78 544.36,37.76 545.00,37.31 545.62,37.13 546.25,37.26 546.88,36.90 547.50,37.15 548.12,36.76 548.75,36.96 549.38,36.67 550.00,36.38 550.62,36.45 551.25,36.43 551.88,36.22 552.50,36.19 553.12,35.95 553.75,36.14 554.38,35.64 555.00,35.85 555.62,35.52 556.24,35.82 556.86,35.65 557.48,35.74 558.10,36.03 558.71,36.25 559.33,36.00 559.95,36.11 560.57,36.20 561.19,36.32 561.81,36.25 562.43,36.31 563.05,36.62 563.67,36.53 564.29,36.48 564.90,36.77 565.52,36.92 566.14,36.69 566.76,36.54 567.38,36.75 568.00,36.90" fill="none" stroke="#a020f0" stroke-width="1.35" stroke-linejoin="round" stroke-linecap="round" />
<line x1="423.10" y1="20.70" x2="423.10" y2="116.00" stroke="#111" stroke-width="1.2" stroke-dasharray="1.5,1.0"/>
<line x1="438.70" y1="20.70" x2="438.70" y2="133.50" stroke="#111" stroke-width="1.2" stroke-dasharray="1.5,1.0"/>
<line x1="444.10" y1="20.70" x2="444.10" y2="115.30" stroke="#111" stroke-width="1.2" stroke-dasharray="1.5,1.0"/>
<line x1="512.60" y1="20.70" x2="512.60" y2="86.00" stroke="#111" stroke-width="1.2" stroke-dasharray="1.5,1.0"/>
<line x1="531.20" y1="20.70" x2="531.20" y2="86.00" stroke="#111" stroke-width="1.2" stroke-dasharray="1.5,1.0"/>
<line x1="378.70" y1="25.90" x2="378.70" y2="145.50" stroke="#000" stroke-width="1.8" />
<line x1="377.80" y1="144.50" x2="568.50" y2="144.50" stroke="#000" stroke-width="1.8" />
<line x1="376.20" y1="144.20" x2="378.70" y2="144.20" stroke="#000" stroke-width="1.2" />
<text x="376.00" y="146.30" font-size="6" font-weight="bold" text-anchor="end" fill="#000"  stroke="#000" stroke-width="0.3">40</text>
<line x1="376.20" y1="124.50" x2="378.70" y2="124.50" stroke="#000" stroke-width="1.2" />
<text x="376.00" y="126.60" font-size="6" font-weight="bold" text-anchor="end" fill="#000"  stroke="#000" stroke-width="0.3">50</text>
<line x1="376.20" y1="104.80" x2="378.70" y2="104.80" stroke="#000" stroke-width="1.2" />
<text x="376.00" y="106.90" font-size="6" font-weight="bold" text-anchor="end" fill="#000"  stroke="#000" stroke-width="0.3">60</text>
<line x1="376.20" y1="85.10" x2="378.70" y2="85.10" stroke="#000" stroke-width="1.2" />
<text x="376.00" y="87.20" font-size="6" font-weight="bold" text-anchor="end" fill="#000"  stroke="#000" stroke-width="0.3">70</text>
<line x1="376.20" y1="65.40" x2="378.70" y2="65.40" stroke="#000" stroke-width="1.2" />
<text x="376.00" y="67.50" font-size="6" font-weight="bold" text-anchor="end" fill="#000"  stroke="#000" stroke-width="0.3">80</text>
<line x1="376.20" y1="45.70" x2="378.70" y2="45.70" stroke="#000" stroke-width="1.2" />
<text x="376.00" y="47.80" font-size="6" font-weight="bold" text-anchor="end" fill="#000"  stroke="#000" stroke-width="0.3">90</text>
<line x1="376.20" y1="26.00" x2="378.70" y2="26.00" stroke="#000" stroke-width="1.2" />
<text x="376.00" y="28.10" font-size="6" font-weight="bold" text-anchor="end" fill="#000"  stroke="#000" stroke-width="0.3">100</text>
<line x1="379.00" y1="144.50" x2="379.00" y2="146.90" stroke="#000" stroke-width="1.2" />
<text x="379.00" y="153.10" font-size="6" font-weight="bold" text-anchor="middle" fill="#000"  stroke="#000" stroke-width="0.3">400</text>
<line x1="400.00" y1="144.50" x2="400.00" y2="146.90" stroke="#000" stroke-width="1.2" />
<text x="400.00" y="153.10" font-size="6" font-weight="bold" text-anchor="middle" fill="#000"  stroke="#000" stroke-width="0.3">800</text>
<line x1="421.00" y1="144.50" x2="421.00" y2="146.90" stroke="#000" stroke-width="1.2" />
<text x="421.00" y="153.10" font-size="6" font-weight="bold" text-anchor="middle" fill="#000"  stroke="#000" stroke-width="0.3">1200</text>
<line x1="442.00" y1="144.50" x2="442.00" y2="146.90" stroke="#000" stroke-width="1.2" />
<text x="442.00" y="153.10" font-size="6" font-weight="bold" text-anchor="middle" fill="#000"  stroke="#000" stroke-width="0.3">1600</text>
<line x1="463.00" y1="144.50" x2="463.00" y2="146.90" stroke="#000" stroke-width="1.2" />
<text x="463.00" y="153.10" font-size="6" font-weight="bold" text-anchor="middle" fill="#000"  stroke="#000" stroke-width="0.3">2000</text>
<line x1="484.00" y1="144.50" x2="484.00" y2="146.90" stroke="#000" stroke-width="1.2" />
<text x="484.00" y="153.10" font-size="6" font-weight="bold" text-anchor="middle" fill="#000"  stroke="#000" stroke-width="0.3">2400</text>
<line x1="505.00" y1="144.50" x2="505.00" y2="146.90" stroke="#000" stroke-width="1.2" />
<text x="505.00" y="153.10" font-size="6" font-weight="bold" text-anchor="middle" fill="#000"  stroke="#000" stroke-width="0.3">2800</text>
<line x1="526.00" y1="144.50" x2="526.00" y2="146.90" stroke="#000" stroke-width="1.2" />
<text x="526.00" y="153.10" font-size="6" font-weight="bold" text-anchor="middle" fill="#000"  stroke="#000" stroke-width="0.3">3200</text>
<line x1="547.00" y1="144.50" x2="547.00" y2="146.90" stroke="#000" stroke-width="1.2" />
<text x="547.00" y="153.10" font-size="6" font-weight="bold" text-anchor="middle" fill="#000"  stroke="#000" stroke-width="0.3">3600</text>
<line x1="568.00" y1="144.50" x2="568.00" y2="146.90" stroke="#000" stroke-width="1.2" />
<text x="568.00" y="153.10" font-size="6" font-weight="bold" text-anchor="middle" fill="#000"  stroke="#000" stroke-width="0.3">4000</text>
<text x="473.70" y="20.50" font-size="7" font-weight="bold" text-anchor="middle" fill="#000"  stroke="#000" stroke-width="0.3">FTIR</text>
<text x="473.70" y="168.20" font-size="6.3" font-weight="bold" text-anchor="middle" fill="#000"  stroke="#000" stroke-width="0.3">Wavelength (nm)</text>
<text x="0.00" y="0.00" font-size="7" font-weight="bold" text-anchor="middle" fill="#000" transform="translate(361.7,80.5) rotate(-90)" stroke="#000" stroke-width="0.3">Transmittance (%)</text>
<text x="425.30" y="121.90" font-size="4.9" font-weight="bold" text-anchor="middle" fill="#000" stroke="#000" stroke-width="0.15">Amide III</text>
<text x="440.00" y="138.50" font-size="4.9" font-weight="bold" text-anchor="middle" fill="#000" stroke="#000" stroke-width="0.15">Amide II</text>
<text x="453.30" y="119.70" font-size="4.9" font-weight="bold" text-anchor="middle" fill="#000" stroke="#000" stroke-width="0.15">Amide I</text>
<text x="502.00" y="60.60" font-size="4.9" font-weight="bold" text-anchor="middle" fill="#000" stroke="#000" stroke-width="0.15">Amide B</text>
<text x="541.70" y="70.20" font-size="4.9" font-weight="bold" text-anchor="middle" fill="#000" stroke="#000" stroke-width="0.15">Amide A</text>
<line x1="496.90" y1="101.30" x2="503.90" y2="101.30" stroke="#0000f0" stroke-width="1.4" />
<text x="507.00" y="103.30" font-size="5.4" font-weight="normal" text-anchor="start" fill="#000" stroke="#000" stroke-width="0.18">Collagen Starting Material</text>
<line x1="496.90" y1="109.20" x2="503.90" y2="109.20" stroke="#ff0000" stroke-width="1.4" />
<text x="507.00" y="111.20" font-size="5.4" font-weight="normal" text-anchor="start" fill="#000" stroke="#000" stroke-width="0.18">PDLLA Starting Material</text>
<line x1="496.90" y1="116.20" x2="503.90" y2="116.20" stroke="#22e022" stroke-width="1.4" />
<text x="507.00" y="118.20" font-size="5.4" font-weight="normal" text-anchor="start" fill="#000" stroke="#000" stroke-width="0.18">As-electrospun</text>
<line x1="496.90" y1="124.10" x2="503.90" y2="124.10" stroke="#a020f0" stroke-width="1.4" />
<text x="507.90" y="126.10" font-size="5.4" font-weight="normal" text-anchor="start" fill="#000" stroke="#000" stroke-width="0.18">Annealed</text>
<line x1="176.50" y1="199.00" x2="176.50" y2="325.60" stroke="#000" stroke-width="1.6" />
<line x1="175.70" y1="324.80" x2="342.60" y2="324.80" stroke="#000" stroke-width="1.6" />
<line x1="171.80" y1="324.70" x2="176.50" y2="324.70" stroke="#000" stroke-width="1.3" />
<text x="171.40" y="326.90" font-size="6.3" font-weight="bold" text-anchor="end" fill="#000"  stroke="#000" stroke-width="0.3">75</text>
<line x1="171.80" y1="303.84" x2="176.50" y2="303.84" stroke="#000" stroke-width="1.3" />
<text x="171.40" y="306.04" font-size="6.3" font-weight="bold" text-anchor="end" fill="#000"  stroke="#000" stroke-width="0.3">80</text>
<line x1="171.80" y1="282.98" x2="176.50" y2="282.98" stroke="#000" stroke-width="1.3" />
<text x="171.40" y="285.18" font-size="6.3" font-weight="bold" text-anchor="end" fill="#000"  stroke="#000" stroke-width="0.3">85</text>
<line x1="171.80" y1="262.12" x2="176.50" y2="262.12" stroke="#000" stroke-width="1.3" />
<text x="171.40" y="264.32" font-size="6.3" font-weight="bold" text-anchor="end" fill="#000"  stroke="#000" stroke-width="0.3">90</text>
<line x1="171.80" y1="241.26" x2="176.50" y2="241.26" stroke="#000" stroke-width="1.3" />
<text x="171.40" y="243.46" font-size="6.3" font-weight="bold" text-anchor="end" fill="#000"  stroke="#000" stroke-width="0.3">95</text>
<line x1="171.80" y1="220.40" x2="176.50" y2="220.40" stroke="#000" stroke-width="1.3" />
<text x="171.40" y="222.60" font-size="6.3" font-weight="bold" text-anchor="end" fill="#000"  stroke="#000" stroke-width="0.3">100</text>
<line x1="171.80" y1="199.54" x2="176.50" y2="199.54" stroke="#000" stroke-width="1.3" />
<text x="171.40" y="201.74" font-size="6.3" font-weight="bold" text-anchor="end" fill="#000"  stroke="#000" stroke-width="0.3">105</text>
<line x1="185.20" y1="324.80" x2="185.20" y2="329.00" stroke="#000" stroke-width="1.3" />
<text x="185.20" y="335.30" font-size="6.2" font-weight="bold" text-anchor="middle" fill="#000"  stroke="#000" stroke-width="0.3">50</text>
<line x1="200.86" y1="324.80" x2="200.86" y2="327.60" stroke="#000" stroke-width="1.3" />
<line x1="216.52" y1="324.80" x2="216.52" y2="329.00" stroke="#000" stroke-width="1.3" />
<text x="216.52" y="335.30" font-size="6.2" font-weight="bold" text-anchor="middle" fill="#000"  stroke="#000" stroke-width="0.3">100</text>
<line x1="232.18" y1="324.80" x2="232.18" y2="327.60" stroke="#000" stroke-width="1.3" />
<line x1="247.84" y1="324.80" x2="247.84" y2="329.00" stroke="#000" stroke-width="1.3" />
<text x="247.84" y="335.30" font-size="6.2" font-weight="bold" text-anchor="middle" fill="#000"  stroke="#000" stroke-width="0.3">150</text>
<line x1="263.50" y1="324.80" x2="263.50" y2="327.60" stroke="#000" stroke-width="1.3" />
<line x1="279.16" y1="324.80" x2="279.16" y2="329.00" stroke="#000" stroke-width="1.3" />
<text x="279.16" y="335.30" font-size="6.2" font-weight="bold" text-anchor="middle" fill="#000"  stroke="#000" stroke-width="0.3">200</text>
<line x1="294.82" y1="324.80" x2="294.82" y2="327.60" stroke="#000" stroke-width="1.3" />
<line x1="310.48" y1="324.80" x2="310.48" y2="329.00" stroke="#000" stroke-width="1.3" />
<text x="310.48" y="335.30" font-size="6.2" font-weight="bold" text-anchor="middle" fill="#000"  stroke="#000" stroke-width="0.3">250</text>
<line x1="326.14" y1="324.80" x2="326.14" y2="327.60" stroke="#000" stroke-width="1.3" />
<line x1="341.80" y1="324.80" x2="341.80" y2="329.00" stroke="#000" stroke-width="1.3" />
<text x="341.80" y="335.30" font-size="6.2" font-weight="bold" text-anchor="middle" fill="#000"  stroke="#000" stroke-width="0.3">300</text>
<text x="259.40" y="191.50" font-size="6.7" font-weight="bold" text-anchor="middle" fill="#000"  stroke="#000" stroke-width="0.3">Thermogravimetric Analysis</text>
<text x="259.40" y="346.20" font-size="6.7" font-weight="bold" text-anchor="middle" fill="#000"  stroke="#000" stroke-width="0.3">Temperature (°C)</text>
<text x="0.00" y="0.00" font-size="7" font-weight="bold" text-anchor="middle" fill="#000" transform="translate(157.6,262) rotate(-90)" stroke="#000" stroke-width="0.3">Weight (%)</text>
<line x1="176.30" y1="240.60" x2="309.50" y2="240.60" stroke="#333" stroke-width="1.0" stroke-dasharray="2.2,1.3"/>
<line x1="292.90" y1="240.60" x2="292.90" y2="324.00" stroke="#1a1aff" stroke-width="1.5" stroke-dasharray="2,0.9"/>
<line x1="309.50" y1="241.00" x2="309.50" y2="324.00" stroke="#ff8c1a" stroke-width="1.1" stroke-dasharray="2,1"/>
<polyline points="176.50,220.20 176.66,220.38 176.87,220.62 177.12,220.91 177.41,221.22 177.70,221.53 178.00,221.80 178.28,222.03 178.56,222.24 178.84,222.44 179.17,222.66 179.55,222.91 180.00,223.20 180.53,223.56 181.11,223.97 181.75,224.42 182.44,224.87 183.19,225.31 184.00,225.70 184.84,226.05 185.70,226.38 186.62,226.69 187.63,227.00 188.75,227.30 190.00,227.60 191.38,227.90 192.85,228.20 194.44,228.49 196.15,228.79 198.00,229.09 200.00,229.40 202.21,229.73 204.63,230.07 207.19,230.42 209.81,230.76 212.44,231.09 215.00,231.40 217.50,231.68 220.00,231.94 222.50,232.18 225.00,232.42 227.50,232.66 230.00,232.90 232.56,233.16 235.19,233.42 237.81,233.69 240.37,233.94 242.79,234.18 245.00,234.40 246.90,234.58 248.52,234.74 250.00,234.88 251.48,235.01 253.10,235.15 255.00,235.30 257.27,235.46 259.81,235.63 262.50,235.80 265.19,235.97 267.73,236.14 270.00,236.30 271.96,236.45 273.70,236.60 275.31,236.74 276.85,236.89 278.39,237.04 280.00,237.20 281.67,237.37 283.33,237.54 285.00,237.72 286.67,237.91 288.33,238.10 290.00,238.30 291.72,238.51 293.52,238.74 295.31,238.97 297.04,239.20 298.62,239.41 300.00,239.60 301.12,239.76 302.04,239.88 302.81,239.99 303.52,240.11 304.22,240.24 305.00,240.40 305.82,240.59 306.62,240.78 307.43,240.99 308.24,241.23 309.10,241.50 310.00,241.80 310.96,242.13 311.98,242.48 313.03,242.86 314.09,243.28 315.15,243.75 316.20,244.30 317.26,244.93 318.34,245.64 319.42,246.41 320.48,247.20 321.48,248.01 322.40,248.80 323.22,249.55 323.95,250.29 324.63,251.03 325.28,251.81 325.93,252.66 326.60,253.60 327.30,254.65 328.01,255.78 328.72,256.98 329.41,258.23 330.08,259.51 330.70,260.80 331.27,262.10 331.81,263.41 332.31,264.75 332.80,266.14 333.29,267.58 333.80,269.10 334.33,270.74 334.87,272.49 335.41,274.31 335.94,276.12 336.44,277.87 336.90,279.50 337.31,280.99 337.69,282.39 338.04,283.73 338.37,285.04 338.69,286.35 339.00,287.70 339.30,289.11 339.60,290.56 339.88,292.02 340.14,293.44 340.38,294.78 340.60,296.00 340.80,297.14 340.99,298.24 341.15,299.27 341.29,300.18 341.41,300.93 341.50,301.50" fill="none" stroke="#ff8c1a" stroke-width="1.3" stroke-linejoin="round" stroke-linecap="round" />
<polyline points="176.50,222.60 176.66,222.73 176.87,222.91 177.12,223.13 177.41,223.36 177.70,223.59 178.00,223.80 178.28,223.98 178.56,224.14 178.84,224.29 179.17,224.46 179.55,224.66 180.00,224.90 180.53,225.20 181.11,225.54 181.75,225.91 182.44,226.29 183.19,226.66 184.00,227.00 184.84,227.31 185.70,227.59 186.62,227.87 187.63,228.14 188.75,228.42 190.00,228.70 191.38,229.00 192.85,229.30 194.44,229.61 196.15,229.91 198.00,230.21 200.00,230.50 202.21,230.78 204.63,231.04 207.19,231.30 209.81,231.56 212.44,231.82 215.00,232.10 217.50,232.39 220.00,232.70 222.50,233.01 225.00,233.31 227.50,233.62 230.00,233.90 232.56,234.17 235.19,234.43 237.81,234.68 240.37,234.93 242.79,235.17 245.00,235.40 246.90,235.63 248.52,235.85 250.00,236.06 251.48,236.27 253.10,236.49 255.00,236.70 257.27,236.92 259.81,237.14 262.50,237.36 265.19,237.57 267.73,237.79 270.00,238.00 271.92,238.21 273.60,238.41 275.13,238.61 276.64,238.80 278.22,239.00 280.00,239.20 282.05,239.40 284.30,239.59 286.63,239.78 288.92,239.98 291.05,240.18 292.90,240.40 294.44,240.64 295.77,240.90 296.94,241.16 298.00,241.43 299.01,241.68 300.00,241.90 300.95,242.09 301.82,242.26 302.63,242.41 303.41,242.56 304.19,242.72 305.00,242.90 305.82,243.09 306.62,243.27 307.43,243.47 308.24,243.69 309.10,243.96 310.00,244.30 310.96,244.69 311.98,245.13 313.03,245.61 314.09,246.15 315.15,246.74 316.20,247.40 317.26,248.15 318.34,248.98 319.42,249.88 320.48,250.80 321.48,251.71 322.40,252.60 323.22,253.42 323.95,254.19 324.63,254.96 325.28,255.77 325.93,256.67 326.60,257.70 327.30,258.90 328.01,260.23 328.72,261.65 329.41,263.11 330.08,264.58 330.70,266.00 331.27,267.35 331.81,268.65 332.31,269.96 332.80,271.30 333.29,272.74 333.80,274.30 334.33,276.06 334.87,277.99 335.41,280.00 335.94,282.01 336.44,283.94 336.90,285.70 337.31,287.24 337.68,288.62 338.02,289.92 338.34,291.20 338.67,292.54 339.00,294.00 339.36,295.72 339.75,297.67 340.13,299.67 340.49,301.56 340.78,303.16 341.00,304.30" fill="none" stroke="#1010f0" stroke-width="1.3" stroke-linejoin="round" stroke-linecap="round" />
<line x1="191.10" y1="296.70" x2="200.90" y2="296.70" stroke="#6060ff" stroke-width="1.1" />
<line x1="191.10" y1="308.50" x2="200.90" y2="308.50" stroke="#ffa040" stroke-width="1.1" />
<text x="206.10" y="299.50" font-size="6.6" font-weight="normal" text-anchor="start" fill="#000" stroke="#000" stroke-width="0.15">No Vacuum</text>
<text x="206.10" y="310.90" font-size="6.6" font-weight="normal" text-anchor="start" fill="#000" stroke="#000" stroke-width="0.15">24 Hrs Vacuum</text>
<line x1="379.10" y1="195.20" x2="379.10" y2="325.50" stroke="#000" stroke-width="1.6" />
<line x1="378.30" y1="324.60" x2="567.80" y2="324.60" stroke="#000" stroke-width="1.6" />
<line x1="374.70" y1="195.90" x2="379.10" y2="195.90" stroke="#000" stroke-width="1.3" />
<text x="374.30" y="198.10" font-size="6.2" font-weight="bold" text-anchor="end" fill="#000"  stroke="#000" stroke-width="0.3">2.0</text>
<line x1="376.70" y1="217.35" x2="379.10" y2="217.35" stroke="#000" stroke-width="1.3" />
<line x1="374.70" y1="238.80" x2="379.10" y2="238.80" stroke="#000" stroke-width="1.3" />
<text x="374.30" y="241.00" font-size="6.2" font-weight="bold" text-anchor="end" fill="#000"  stroke="#000" stroke-width="0.3">1.8</text>
<line x1="376.70" y1="260.25" x2="379.10" y2="260.25" stroke="#000" stroke-width="1.3" />
<line x1="374.70" y1="281.70" x2="379.10" y2="281.70" stroke="#000" stroke-width="1.3" />
<text x="374.30" y="283.90" font-size="6.2" font-weight="bold" text-anchor="end" fill="#000"  stroke="#000" stroke-width="0.3">1.6</text>
<line x1="376.70" y1="303.15" x2="379.10" y2="303.15" stroke="#000" stroke-width="1.3" />
<line x1="374.70" y1="324.60" x2="379.10" y2="324.60" stroke="#000" stroke-width="1.3" />
<text x="374.30" y="326.80" font-size="6.2" font-weight="bold" text-anchor="end" fill="#000"  stroke="#000" stroke-width="0.3">1.4</text>
<line x1="402.30" y1="324.60" x2="402.30" y2="328.30" stroke="#000" stroke-width="1.3" />
<text x="402.30" y="335.00" font-size="6.2" font-weight="bold" text-anchor="middle" fill="#000"  stroke="#000" stroke-width="0.3">0</text>
<line x1="437.60" y1="324.60" x2="437.60" y2="328.30" stroke="#000" stroke-width="1.3" />
<text x="437.60" y="335.00" font-size="6.2" font-weight="bold" text-anchor="middle" fill="#000"  stroke="#000" stroke-width="0.3">2</text>
<line x1="472.70" y1="324.60" x2="472.70" y2="328.30" stroke="#000" stroke-width="1.3" />
<text x="472.70" y="335.00" font-size="6.2" font-weight="bold" text-anchor="middle" fill="#000"  stroke="#000" stroke-width="0.3">4</text>
<line x1="507.90" y1="324.60" x2="507.90" y2="328.30" stroke="#000" stroke-width="1.3" />
<text x="507.90" y="335.00" font-size="6.2" font-weight="bold" text-anchor="middle" fill="#000"  stroke="#000" stroke-width="0.3">6</text>
<line x1="543.60" y1="324.60" x2="543.60" y2="328.30" stroke="#000" stroke-width="1.3" />
<text x="543.60" y="335.00" font-size="6.2" font-weight="bold" text-anchor="middle" fill="#000"  stroke="#000" stroke-width="0.3">24</text>
<text x="473.00" y="189.30" font-size="6.7" font-weight="bold" text-anchor="middle" fill="#000"  stroke="#000" stroke-width="0.3">Mass Spectrometry</text>
<text x="473.50" y="346.20" font-size="6.9" font-weight="bold" text-anchor="middle" fill="#000"  stroke="#000" stroke-width="0.3">Time Under Vacuum (hrs)</text>
<text x="0.00" y="0.00" font-size="6.9" font-weight="bold" text-anchor="middle" fill="#000" transform="translate(361,259.8) rotate(-90)" xml:space="preserve" stroke="#000" stroke-width="0.3">Residual DMSO  by Weight  (%)</text>
<rect x="391.50" y="246.60" width="22.00" height="11.40" fill="none" stroke="#0000f0" stroke-width="1.4"/>
<line x1="391.50" y1="252.60" x2="413.50" y2="252.60" stroke="#0000f0" stroke-width="1.4" />
<rect x="396.00" y="245.10" width="13" height="1.80" fill="#0000f0"/>
<rect x="426.70" y="266.40" width="22.50" height="6.70" fill="none" stroke="#ff0000" stroke-width="1.4"/>
<line x1="426.70" y1="268.90" x2="449.20" y2="268.90" stroke="#ff0000" stroke-width="1.4" />
<rect x="431.45" y="272.80" width="13" height="2.30" fill="#ff0000"/>
<rect x="462.00" y="265.40" width="22.20" height="11.00" fill="none" stroke="#1ec81e" stroke-width="1.4"/>
<line x1="462.00" y1="270.90" x2="484.20" y2="270.90" stroke="#1ec81e" stroke-width="1.4" />
<rect x="466.60" y="263.00" width="13" height="2.70" fill="#1ec81e"/>
<rect x="466.60" y="276.10" width="13" height="1.90" fill="#1ec81e"/>
<rect x="496.4" y="267.4" width="23.4" height="3.9" fill="#9a10e8"/>
<rect x="502.1" y="265.9" width="12.7" height="6.8" fill="#9a10e8"/>
<rect x="532.80" y="305.00" width="21.90" height="6.00" fill="none" stroke="#ff8c1a" stroke-width="1.4"/>
<line x1="532.80" y1="308.00" x2="554.70" y2="308.00" stroke="#ff8c1a" stroke-width="1.4" />
<rect x="537.25" y="302.90" width="13" height="2.40" fill="#ff8c1a"/>
<text x="529.80" y="298.60" font-size="9.5" font-weight="bold" text-anchor="middle" fill="#000"  stroke="#000" stroke-width="0.3">*</text>
<circle cx="10.2" cy="9.5" r="9.9" fill="#2b2b2b"/>
<text x="10.10" y="14.30" font-size="13.6" font-weight="bold" text-anchor="middle" fill="#fff" stroke="#fff" stroke-width="0.35">A</text>
<circle cx="174.7" cy="9.5" r="10" fill="#2b2b2b"/>
<text x="174.60" y="14.30" font-size="13.6" font-weight="bold" text-anchor="middle" fill="#fff" stroke="#fff" stroke-width="0.35">B</text>
<circle cx="379" cy="9.2" r="10.2" fill="#2b2b2b"/>
<text x="378.90" y="14.00" font-size="13.6" font-weight="bold" text-anchor="middle" fill="#fff" stroke="#fff" stroke-width="0.35">C</text>
<circle cx="172.2" cy="180.9" r="10" fill="#2b2b2b"/>
<text x="172.10" y="185.70" font-size="13.6" font-weight="bold" text-anchor="middle" fill="#fff" stroke="#fff" stroke-width="0.35">D</text>
<circle cx="377.9" cy="181.6" r="9.7" fill="#2b2b2b"/>
<text x="377.80" y="186.40" font-size="13.6" font-weight="bold" text-anchor="middle" fill="#fff" stroke="#fff" stroke-width="0.35">E</text>
</svg>
</body></html>
